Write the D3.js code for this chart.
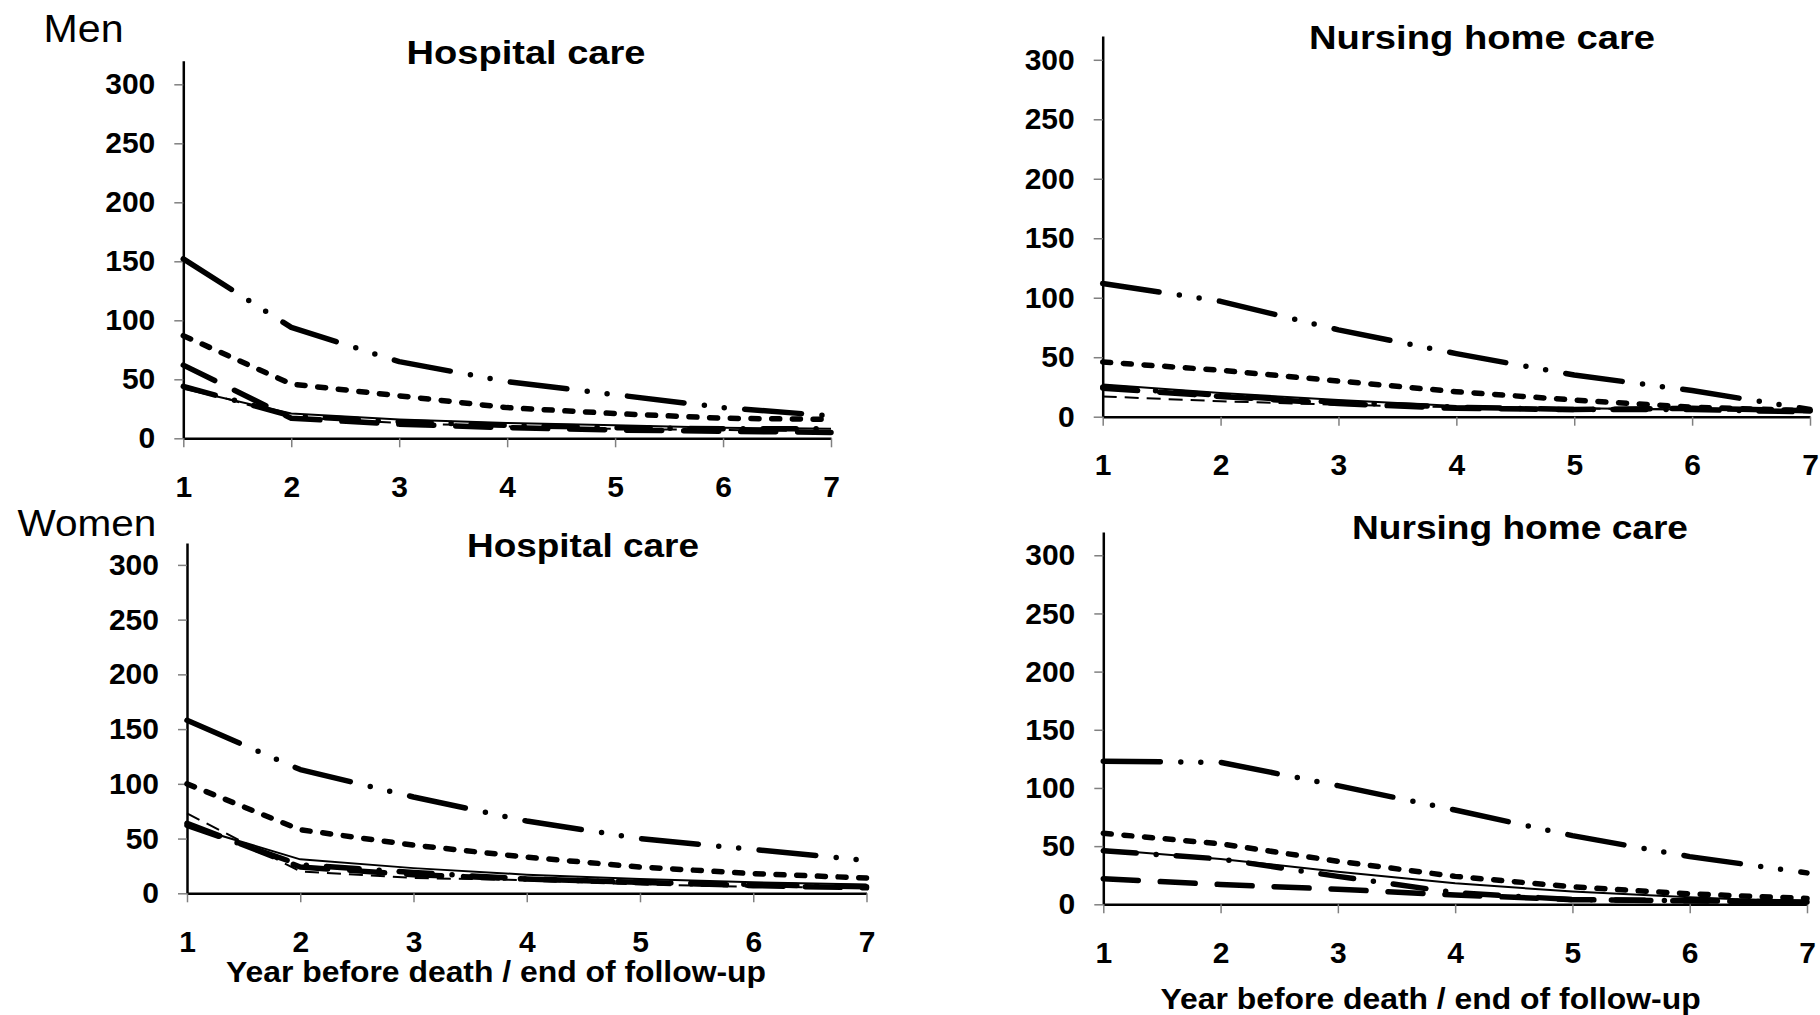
<!DOCTYPE html>
<html>
<head>
<meta charset="utf-8">
<script src="https://cdn.jsdelivr.net/npm/d3@7"></script>
<style>
  body { margin: 0; background: #fff; }
  svg { display: block; font-family: "Liberation Sans", Arial, sans-serif; }
</style>
</head>
<body>
<div id="chart"></div>
<script>
(() => {
    const width = 1820,
          height = 1015;

    // data
    const years = [1, 2, 3, 4, 5, 6, 7];
    const yTicks = [0, 50, 100, 150, 200, 250, 300];
    const yMax = 320;

    // Men, hospital care
    const menHospThinSolid   = [42, 21, 16, 13, 11, 9, 8];
    const menHospThinDash    = [44, 18, 13, 10, 8, 7, 6];
    const menHospLongDash    = [62, 17, 12, 9, 7, 6, 5];
    const menHospDashDot     = [44, 19, 14, 11, 9, 8, 8];
    const menHospShortDash   = [87, 46, 36, 26, 21, 17, 16];
    const menHospDashDotDot  = [152, 94, 65, 48, 37, 26, 19];

    // Men, nursing home care
    const menNursThinSolid   = [27, 20, 14, 9, 7, 6, 4];
    const menNursThinDash    = [17, 13, 10, 8, 7, 6, 5];
    const menNursLongDash    = [24, 17, 11, 7, 6, 7, 5];
    const menNursDashDot     = [25, 18, 12, 8, 6, 6, 4];
    const menNursShortDash   = [46, 39, 30, 21, 14, 8, 5];
    const menNursDashDotDot  = [112, 97, 73, 53, 35, 22, 6];

    // Women, hospital care
    const womHospThinSolid   = [62, 31, 23, 17, 13, 10, 8];
    const womHospThinDash    = [73, 20, 14, 12, 8, 6, 5];
    const womHospLongDash    = [64, 24, 17, 13, 10, 7, 5];
    const womHospDashDot     = [62, 26, 19, 13, 10, 8, 6];
    const womHospShortDash   = [100, 58, 44, 33, 24, 18, 14];
    const womHospDashDotDot  = [158, 113, 88, 66, 50, 40, 30];

    // Women, nursing home care (thin dashed line not visible here)
    const womNursThinSolid   = [47, 39, 28, 18, 11, 6, 2];
    const womNursLongDash    = [22, 17, 13, 8, 4, 3, 2];
    const womNursDashDot     = [46, 39, 24, 10, 4, 3, 2];
    const womNursShortDash   = [61, 52, 37, 24, 15, 9, 5];
    const womNursDashDotDot  = [123, 122, 102, 81, 59, 41, 27];

    // line styles, one per series
    const styles = {
        thinSolid:  { w: 2,   dash: null,                        cap: 'butt' },
        thinDash:   { w: 2,   dash: '14,8',                      cap: 'butt' },
        longDash:   { w: 5.5, dash: '35,22',                     cap: 'round' },
        dashDot:    { w: 5.5, dash: '33,20,0,20',                cap: 'round' },
        shortDash:  { w: 5.5, dash: '8,12.7',                    cap: 'round' },
        dashDotDot: { w: 5.5, dash: '57,20.5,0,20,0,20.5',       cap: 'round' }
    };

    const panels = [
        { title: 'Hospital care', left: 183.3, right: 831, zero: 438.3, top: 60.7,
          tx: 526, ty: 64, tw: 239, tfs: 33,
          series: { thinSolid: menHospThinSolid, thinDash: menHospThinDash, longDash: menHospLongDash,
                    dashDot: menHospDashDot, shortDash: menHospShortDash, dashDotDot: menHospDashDotDot } },
        { title: 'Nursing home care', left: 1102.7, right: 1810, zero: 416.7, top: 36,
          tx: 1482, ty: 49, tw: 346, tfs: 34,
          series: { thinSolid: menNursThinSolid, thinDash: menNursThinDash, longDash: menNursLongDash,
                    dashDot: menNursDashDot, shortDash: menNursShortDash, dashDotDot: menNursDashDotDot } },
        { title: 'Hospital care', left: 187, right: 866.5, zero: 893.3, top: 543,
          tx: 583, ty: 556.7, tw: 232, tfs: 33,
          xLabel: { x: 496, y: 981.7, w: 540 },
          series: { thinSolid: womHospThinSolid, thinDash: womHospThinDash, longDash: womHospLongDash,
                    dashDot: womHospDashDot, shortDash: womHospShortDash, dashDotDot: womHospDashDotDot } },
        { title: 'Nursing home care', left: 1103.3, right: 1807, zero: 904.3, top: 532,
          tx: 1520, ty: 539.3, tw: 336, tfs: 34,
          xLabel: { x: 1430.6, y: 1009, w: 540 },
          series: { thinSolid: womNursThinSolid, longDash: womNursLongDash,
                    dashDot: womNursDashDot, shortDash: womNursShortDash, dashDotDot: womNursDashDotDot } }
    ];

    const svg = d3.select('#chart')
        .append('svg')
        .attr('width', width)
        .attr('height', height);

    // sex labels
    svg.append('text')
        .attr('x', 43.5).attr('y', 41.7)
        .attr('font-size', 38)
        .attr('textLength', 80).attr('lengthAdjust', 'spacingAndGlyphs')
        .text('Men');
    svg.append('text')
        .attr('x', 17.4).attr('y', 536)
        .attr('font-size', 37)
        .attr('textLength', 139).attr('lengthAdjust', 'spacingAndGlyphs')
        .text('Women');

    panels.forEach(p => {
        const x = d3.scaleLinear().domain([1, 7]).range([p.left, p.right]);
        const y = d3.scaleLinear().domain([0, yMax]).range([p.zero, p.top]);

        const g = svg.append('g');

        const yAxis = g.append('g')
            .attr('transform', `translate(${p.left},0)`)
            .call(d3.axisLeft(y).tickValues(yTicks).tickSize(9).tickSizeOuter(0).tickPadding(19));

        const xAxis = g.append('g')
            .attr('transform', `translate(0,${p.zero})`)
            .call(d3.axisBottom(x).tickValues(years).tickSize(9).tickSizeOuter(0).tickPadding(28)
                .tickFormat(d3.format('d')));

        [yAxis, xAxis].forEach(a => {
            a.select('.domain').attr('stroke', '#000').attr('stroke-width', 2.5);
            a.selectAll('.tick line').attr('stroke', '#808080').attr('stroke-width', 1.5);
            a.selectAll('.tick text')
                .attr('fill', '#000')
                .attr('font-size', 30)
                .attr('font-weight', 'bold')
                .attr('font-family', '"Liberation Sans", Arial, sans-serif');
        });

        const line = d3.line()
            .x((d, i) => x(years[i]))
            .y(d => y(d));

        Object.entries(p.series).forEach(([key, vals]) => {
            const s = styles[key];
            g.append('path')
                .datum(vals)
                .attr('d', line)
                .attr('fill', 'none')
                .attr('stroke', '#000')
                .attr('stroke-width', s.w)
                .attr('stroke-linecap', s.cap)
                .attr('stroke-linejoin', 'round')
                .attr('stroke-dasharray', s.dash);
        });

        g.append('text')
            .attr('x', p.tx).attr('y', p.ty)
            .attr('text-anchor', 'middle')
            .attr('font-size', p.tfs)
            .attr('font-weight', 'bold')
            .attr('textLength', p.tw).attr('lengthAdjust', 'spacingAndGlyphs')
            .text(p.title);

        if (p.xLabel) {
            g.append('text')
                .attr('x', p.xLabel.x).attr('y', p.xLabel.y)
                .attr('text-anchor', 'middle')
                .attr('font-size', 30)
                .attr('font-weight', 'bold')
                .attr('textLength', p.xLabel.w).attr('lengthAdjust', 'spacingAndGlyphs')
                .text('Year before death / end of follow-up');
        }
    });
})();
</script>
</body>
</html>
